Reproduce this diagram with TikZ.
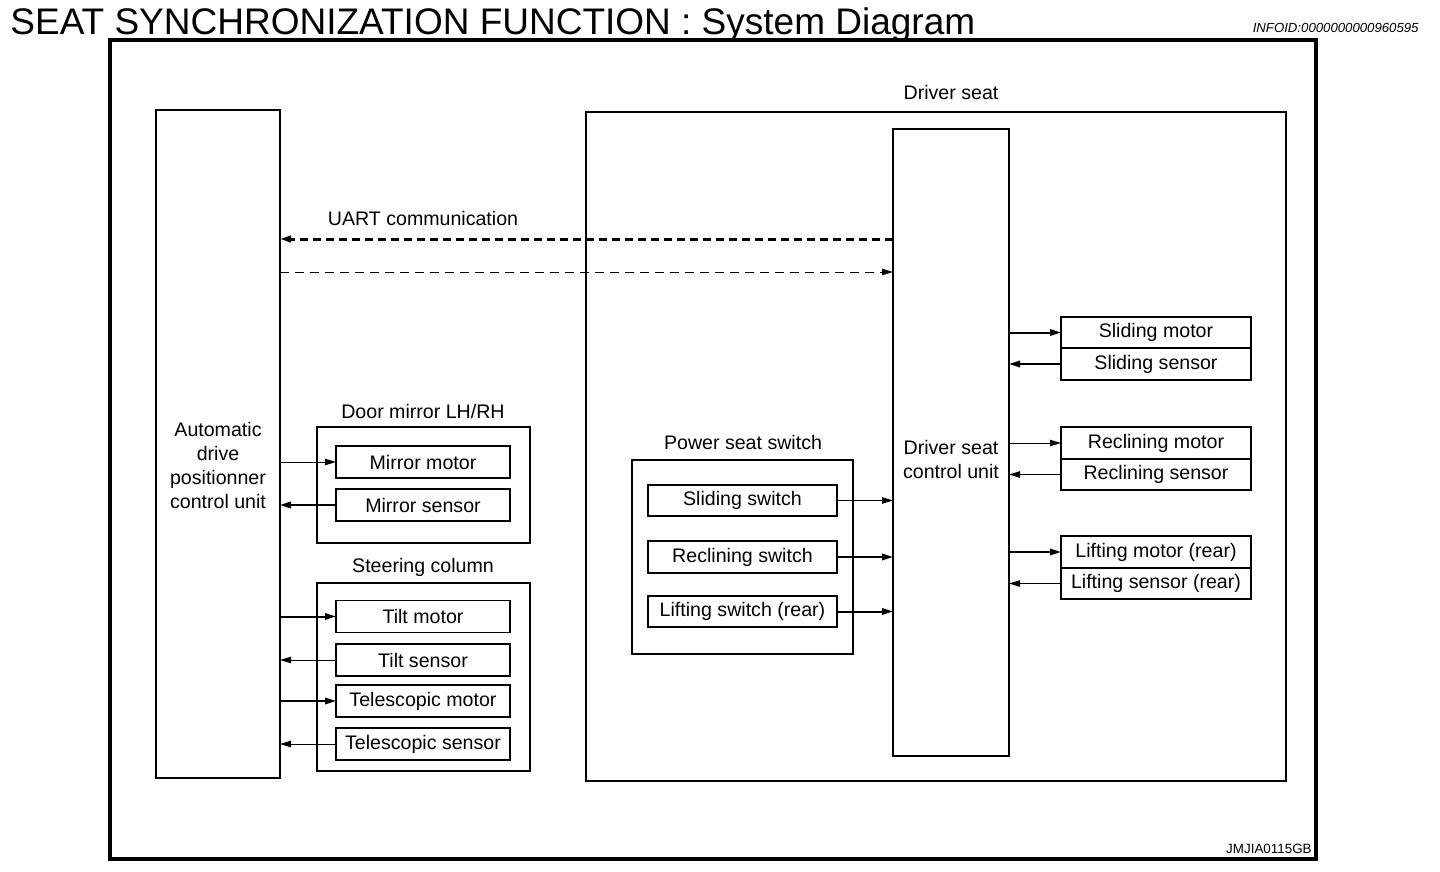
\documentclass[tikz,border=0pt]{standalone}
\usepackage{fontspec}
\setmainfont{Liberation Sans}
\usetikzlibrary{positioning, arrows.meta}

\begin{document}
\begin{tikzpicture}[
        x=0.5pt, y=-0.5pt,
        font=\fontsize{9.8}{12}\selectfont,
        unit/.style={rectangle, draw, line width=1pt, inner sep=0pt, outer sep=0pt},
        group/.style={rectangle, draw, line width=1.3pt, inner sep=0pt, outer sep=0pt, minimum width=106.5pt},
        item/.style={rectangle, draw, line width=0.9pt, inner sep=0pt, outer sep=0pt, minimum width=87pt, minimum height=16pt},
        seatitem/.style={item, minimum width=95pt, minimum height=15.75pt},
        switch/.style={item, minimum width=94.5pt, minimum height=15.75pt},
        sig/.style={line width=1pt, -{Triangle[length=5.5pt, width=3.2pt]}},
        sigthin/.style={sig, line width=0.5pt},
        uartbold/.style={line width=1.5pt, dash pattern=on 4pt off 2.5pt, -{Triangle[length=5.5pt, width=3.2pt]}},
        uartthin/.style={line width=0.5pt, dash pattern=on 4.5pt off 3pt, -{Triangle[length=5.5pt, width=3.2pt]}}
    ]
    \useasboundingbox (0,0) rectangle (1440,872);

    % title and frame
    \node[anchor=base west, inner sep=0pt, font=\fontsize{18.5}{22}\selectfont] (title) at (10,35) {SEAT SYNCHRONIZATION FUNCTION : System Diagram};
    \node[anchor=base east, inner sep=0pt, font=\fontsize{6.6}{8}\selectfont\itshape] (infoid) at (1419,33) {INFOID:0000000000960595};
    \node[anchor=base east, inner sep=0pt, font=\fontsize{6.7}{8}\selectfont] (figid) at (1312,853) {JMJIA0115GB};
    \draw[line width=1.8pt] (110,40) rectangle (1316,859);

    % automatic drive positioner control unit
    \node[unit, minimum width=62pt, minimum height=334pt] (adp) at (218,444) {};
    \node[align=center] (adptxt) at (218,465) {Automatic\\drive\\positionner\\control unit};

    % driver seat
    \node[unit, minimum width=350pt, minimum height=334.5pt] (seat) at (936,446.5) {};
    \node[anchor=base] (seatlbl) at (951,100) {Driver seat};
    \node[unit, minimum width=58pt, minimum height=313.5pt] (dscu) at (951,442.5) {};
    \node[align=center] (dscutxt) at (951,459) {Driver seat\\control unit};

    % UART
    \coordinate (uartrx) at (0,239);
    \coordinate (uarttx) at (0,272);
    \node[anchor=base] (uartlbl) at (423,225) {UART communication};
    \draw[uartbold] (dscu.west |- uartrx) -- (adp.east |- uartrx);
    \draw[uartthin] (adp.east |- uarttx) -- (dscu.west |- uarttx);

    % seat motors and sensors
    \node[seatitem] (smot) at (1156,332.5) {Sliding motor};
    \node[seatitem, below=0pt of smot] (ssen) {Sliding sensor};
    \node[seatitem] (rmot) at (1156,443) {Reclining motor};
    \node[seatitem, below=0pt of rmot] (rsen) {Reclining sensor};
    \node[seatitem] (lmot) at (1156,552) {Lifting motor (rear)};
    \node[seatitem, below=0pt of lmot] (lsen) {Lifting sensor (rear)};

    \draw[sig] (dscu.east |- smot.west) -- (smot.west);
    \draw[sig] (ssen.west) -- (dscu.east |- ssen.west);
    \draw[sigthin] (dscu.east |- rmot.west) -- (rmot.west);
    \draw[sigthin] (rsen.west) -- (dscu.east |- rsen.west);
    \draw[sig] (dscu.east |- lmot.west) -- (lmot.west);
    \draw[sigthin] (lsen.west) -- (dscu.east |- lsen.west);

    % power seat switch
    \node[group, minimum width=110.5pt, minimum height=97pt] (pss) at (742.5,557) {};
    \node[anchor=base] (psslbl) at (743,449) {Power seat switch};
    \node[switch] (swslide) at (742.5,500.5) {Sliding switch};
    \node[switch] (swrecl) at (742.5,557) {Reclining switch};
    \node[switch] (swlift) at (742.5,611.5) {Lifting switch (rear)};

    \draw[sigthin] (swslide.east) -- (dscu.west |- swslide.east);
    \draw[sig] (swrecl.east) -- (dscu.west |- swrecl.east);
    \draw[sig] (swlift.east) -- (dscu.west |- swlift.east);

    % door mirror
    \node[group, minimum height=58pt] (mirror) at (423.5,485) {};
    \node[anchor=base] (mirrorlbl) at (423,418) {Door mirror LH/RH};
    \node[item] (mmot) at (423,462) {Mirror motor};
    \node[item] (msen) at (423,505) {Mirror sensor};

    \draw[sigthin] (adp.east |- mmot.west) -- (mmot.west);
    \draw[sig] (msen.west) -- (adp.east |- msen.west);

    % steering column
    \node[group, minimum height=94pt] (steer) at (423.5,677) {};
    \node[anchor=base] (steerlbl) at (423,572) {Steering column};
    \node[item] (tmot) at (423,616.5) {Tilt motor};
    \node[item] (tsen) at (423,660) {Tilt sensor};
    \node[item] (temot) at (423,701) {Telescopic motor};
    \node[item] (tesen) at (423,744) {Telescopic sensor};

    \draw[sig] (adp.east |- tmot.west) -- (tmot.west);
    \draw[sigthin] (tsen.west) -- (adp.east |- tsen.west);
    \draw[sig] (adp.east |- temot.west) -- (temot.west);
    \draw[sigthin] (tesen.west) -- (adp.east |- tesen.west);
\end{tikzpicture}
\end{document}
